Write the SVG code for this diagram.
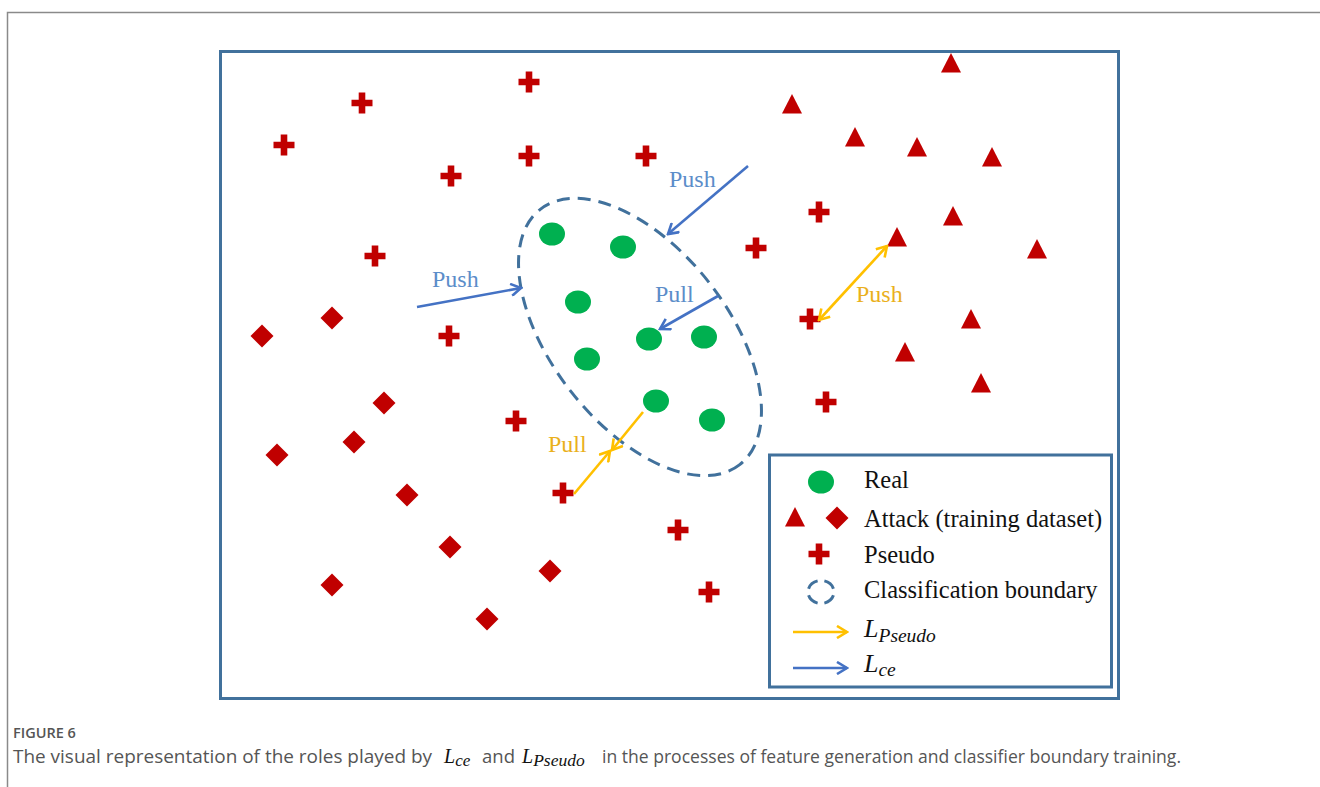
<svg xmlns="http://www.w3.org/2000/svg" width="1320" height="787" viewBox="0 0 1320 787">
<defs>
<style>
.frame{fill:none;stroke:#41719c;stroke-width:3}
.lbl{font-family:"Liberation Serif","Times New Roman",serif;font-size:24px}
.bl{fill:#5b8dc9}
.yl{fill:#eab01c}
.leg{font-family:"Liberation Serif","Times New Roman",serif;font-size:24.5px;fill:#111}
.math{font-family:"Liberation Serif","Times New Roman",serif;font-style:italic;fill:#111}
.barrow{stroke:#4472c4;stroke-width:2.6;fill:none}
.yarrow{stroke:#ffc000;stroke-width:2.6;fill:none}
.red{fill:#c00000}
.dot{fill:#00b050}
.cap{font-family:"Open Sans","Noto Sans",sans-serif;fill:#555}
</style>
<marker id="hb" viewBox="0 0 14 14" refX="12" refY="7" markerWidth="14" markerHeight="14" markerUnits="userSpaceOnUse" orient="auto-start-reverse">
<path d="M2,1 L12,7 L2,13" fill="none" stroke="#4472c4" stroke-width="2.6"/>
</marker>
<marker id="hy" viewBox="0 0 14 14" refX="12" refY="7" markerWidth="14" markerHeight="14" markerUnits="userSpaceOnUse" orient="auto-start-reverse">
<path d="M2,1 L12,7 L2,13" fill="none" stroke="#ffc000" stroke-width="2.6"/>
</marker>
<path id="plus" class="red" d="M-3.3,-10.5 H3.3 V-3.3 H10.5 V3.3 H3.3 V10.5 H-3.3 V3.3 H-10.5 V-3.3 H-3.3 Z"/>
<polygon id="tri" class="red" points="0,-10 10,9.5 -10,9.5"/>
<polygon id="dia" class="red" points="0,-11.5 11.5,0 0,11.5 -11.5,0"/>
<ellipse id="dot" class="dot" rx="13" ry="11.5"/>
</defs>
<rect width="1320" height="787" fill="#fff"/>
<!-- page frame -->
<path d="M7.5,787 V12.5 H1320" fill="none" stroke="#8a8a8a" stroke-width="1.5"/>
<!-- main frame -->
<rect id="main-frame" class="frame" x="220.5" y="51.5" width="898" height="647"/>

<g id="pseudo-points">
<use href="#plus" x="362" y="103"/>
<use href="#plus" x="529" y="82"/>
<use href="#plus" x="284" y="145"/>
<use href="#plus" x="529" y="156"/>
<use href="#plus" x="646" y="156"/>
<use href="#plus" x="451" y="176"/>
<use href="#plus" x="375" y="256"/>
<use href="#plus" x="756" y="248"/>
<use href="#plus" x="819" y="212"/>
<use href="#plus" x="449" y="336"/>
<use href="#plus" x="810" y="319"/>
<use href="#plus" x="826" y="402"/>
<use href="#plus" x="516" y="421"/>
<use href="#plus" x="563" y="493"/>
<use href="#plus" x="678" y="530"/>
<use href="#plus" x="709" y="592"/>
</g>
<g id="attack-triangles">
<use href="#tri" x="951" y="63"/>
<use href="#tri" x="792" y="104"/>
<use href="#tri" x="855" y="137"/>
<use href="#tri" x="917" y="147"/>
<use href="#tri" x="992" y="157"/>
<use href="#tri" x="953" y="216"/>
<use href="#tri" x="897" y="237"/>
<use href="#tri" x="1037" y="249"/>
<use href="#tri" x="971" y="319"/>
<use href="#tri" x="905" y="352"/>
<use href="#tri" x="981" y="383"/>
</g>
<g id="attack-diamonds">
<use href="#dia" x="262" y="336"/>
<use href="#dia" x="332" y="318"/>
<use href="#dia" x="384" y="403"/>
<use href="#dia" x="354" y="442"/>
<use href="#dia" x="277" y="455"/>
<use href="#dia" x="407" y="495"/>
<use href="#dia" x="450" y="547"/>
<use href="#dia" x="550" y="571"/>
<use href="#dia" x="332" y="585"/>
<use href="#dia" x="487" y="619"/>
</g>
<g id="real-points">
<use href="#dot" x="552" y="234"/>
<use href="#dot" x="623" y="247"/>
<use href="#dot" x="578" y="302"/>
<use href="#dot" x="649" y="339"/>
<use href="#dot" x="704" y="337"/>
<use href="#dot" x="587" y="359"/>
<use href="#dot" x="656" y="401"/>
<use href="#dot" x="712" y="420"/>
</g>
<g id="boundary">
<ellipse cx="640" cy="337" rx="162" ry="88" transform="rotate(52 640 337)" fill="none" stroke="#41719c" stroke-width="3" stroke-dasharray="13 8"/>
</g>

<g id="connectors">
<line class="barrow" x1="748" y1="166" x2="668" y2="234" marker-end="url(#hb)"/>
<line class="barrow" x1="417" y1="307" x2="521" y2="288" marker-end="url(#hb)"/>
<line class="barrow" x1="718" y1="296" x2="660" y2="329" marker-end="url(#hb)"/>
<line class="yarrow" x1="643" y1="412" x2="612" y2="450" marker-end="url(#hy)"/>
<line class="yarrow" x1="574" y1="494" x2="610" y2="451" marker-end="url(#hy)"/>
<line class="yarrow" x1="819" y1="320" x2="887" y2="246" marker-start="url(#hy)" marker-end="url(#hy)"/>
</g>
<g id="arrow-labels">
<text class="lbl bl" x="669" y="187">Push</text>
<text class="lbl bl" x="432" y="287">Push</text>
<text class="lbl bl" x="655" y="302">Pull</text>
<text class="lbl yl" x="548" y="452">Pull</text>
<text class="lbl yl" x="856" y="302">Push</text>
</g>

<g id="legend">
<rect class="frame" x="769.5" y="455" width="342" height="232"/>
<use href="#dot" x="821" y="482"/>
<text class="leg" x="864" y="488">Real</text>
<use href="#tri" x="795" y="517"/>
<use href="#dia" x="837" y="518"/>
<text class="leg" x="864" y="527">Attack (training dataset)</text>
<use href="#plus" x="819" y="554"/>
<text class="leg" x="864" y="563">Pseudo</text>
<ellipse cx="821" cy="592" rx="13" ry="11.5" fill="none" stroke="#41719c" stroke-width="3" pathLength="100" stroke-dasharray="16 9" stroke-dashoffset="-4.5"/>
<text class="leg" x="864" y="598">Classification boundary</text>
<line class="yarrow" x1="793" y1="632" x2="847" y2="632" marker-end="url(#hy)"/>
<text class="math" x="864" y="637" font-size="26">L<tspan font-size="19.5" dy="5">Pseudo</tspan></text>
<line class="barrow" x1="793" y1="668" x2="847" y2="668" marker-end="url(#hb)"/>
<text class="math" x="864" y="672" font-size="26">L<tspan font-size="19.5" dy="4">ce</tspan></text>
</g>

<g id="caption">
<text class="cap" x="13" y="738" font-size="14.5" font-weight="600" fill="#666">FIGURE 6</text>
<text class="cap" x="13" y="763" font-size="18.5" textLength="419" lengthAdjust="spacingAndGlyphs">The visual representation of the roles played by</text>
<text class="math" x="444" y="763" font-size="20" fill="#555">L<tspan font-size="17" dy="3">ce</tspan></text>
<text class="cap" x="482" y="763" font-size="18.5">and</text>
<text class="math" x="522" y="763" font-size="20" fill="#555">L<tspan font-size="17.5" dy="3">Pseudo</tspan></text>
<text class="cap" x="602" y="763" font-size="18.5" textLength="579" lengthAdjust="spacingAndGlyphs">in the processes of feature generation and classifier boundary training.</text>
</g>
</svg>
